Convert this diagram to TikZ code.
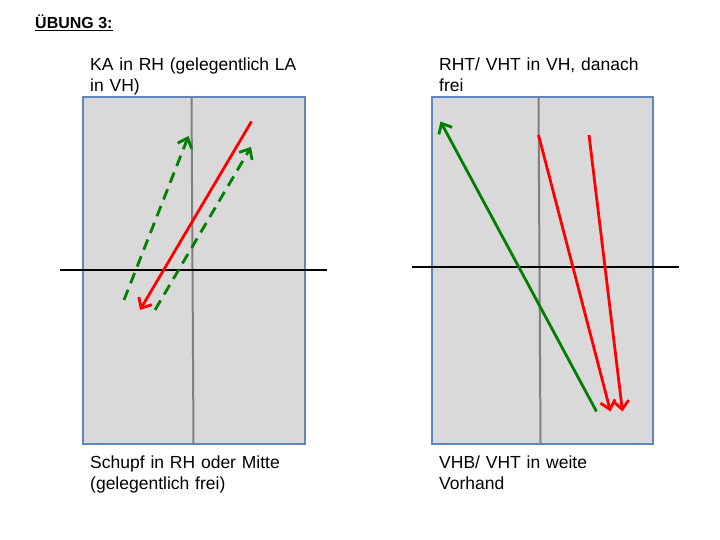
\documentclass[tikz,border=0pt]{standalone}
\usepackage{fontspec}
\setmainfont{Liberation Sans}
\usetikzlibrary{arrows.meta}
\definecolor{tablegray}{RGB}{217,217,217}
\definecolor{tableblue}{RGB}{95,135,190}
\definecolor{midgray}{RGB}{128,128,128}
\definecolor{shotred}{RGB}{255,0,0}
\definecolor{shotgreen}{RGB}{0,128,0}
\tikzset{
  table/.style={draw=tableblue, fill=tablegray, line width=1.6pt},
  midline/.style={draw=midgray, line width=2pt},
  netline/.style={draw=black, line width=1.8pt},
  redshot/.style={draw=shotred, line width=2.8pt, -{Straight Barb[length=8.5pt,width=15pt,line width=2.8pt]}},
  greenshot/.style={draw=shotgreen, line width=2.8pt, -{Straight Barb[length=8.5pt,width=15pt,line width=2.8pt]}},
  greendash/.style={greenshot, dash pattern=on 11pt off 7pt},
  label/.style={anchor=base west, inner sep=0pt, text width=240pt, align=left,
    font=\fontsize{17.5}{21}\selectfont},
}
\begin{document}
\begin{tikzpicture}[x=1pt,y=-1pt]
\useasboundingbox (0,0) rectangle (720,540);

% title
\node[anchor=base west, inner sep=0pt, font=\fontsize{16}{18}\selectfont\bfseries] (title) at (35,29) {\underline{ÜBUNG 3:}};

% left table
\node[table, minimum width=222pt, minimum height=347pt, anchor=north west, inner sep=0pt] (tableL) at (82,96) {};
\coordinate (cLt) at (191.5,96);
\coordinate (cLb) at (193.5,443);
\draw[midline] (cLt) -- (cLb);
\coordinate (nLa) at (60,270);
\coordinate (nLb) at (327,270);
\draw[netline] (nLa) -- (nLb);
\coordinate (g1s) at (124,300);
\coordinate (g1e) at (188.5,136);
\coordinate (g2s) at (155,310);
\coordinate (g2e) at (251,147);
\coordinate (r1s) at (251.5,121.5);
\coordinate (r1e) at (140,310);
\draw[greendash] (g1s) -- (g1e);
\draw[greendash] (g2s) -- (g2e);
\draw[redshot] (r1s) -- (r1e);

% right table
\node[table, minimum width=221pt, minimum height=347pt, anchor=north west, inner sep=0pt] (tableR) at (431,96) {};
\coordinate (cRt) at (538.5,96);
\coordinate (cRb) at (540.5,443);
\draw[midline] (cRt) -- (cRb);
\coordinate (nRa) at (412,267);
\coordinate (nRb) at (679,267);
\draw[netline] (nRa) -- (nRb);
\coordinate (g3s) at (596.5,411.5);
\coordinate (g3e) at (440.5,121.5);
\coordinate (r2s) at (538.5,135);
\coordinate (r2e) at (610.5,411.5);
\coordinate (r3s) at (589,135);
\coordinate (r3e) at (622.5,411.5);
\draw[greenshot] (g3s) -- (g3e);
\draw[redshot] (r2s) -- (r2e);
\draw[redshot] (r3s) -- (r3e);

% labels
\node[label] (labLt) at (90,71) {KA in RH (gelegentlich LA\\in VH)};
\node[label] (labLb) at (90,468) {Schupf in RH oder Mitte\\(gelegentlich frei)};
\node[label] (labRt) at (439,71) {RHT/ VHT in VH, danach\\frei};
\node[label] (labRb) at (439,468) {VHB/ VHT in weite\\Vorhand};
\end{tikzpicture}
\end{document}
